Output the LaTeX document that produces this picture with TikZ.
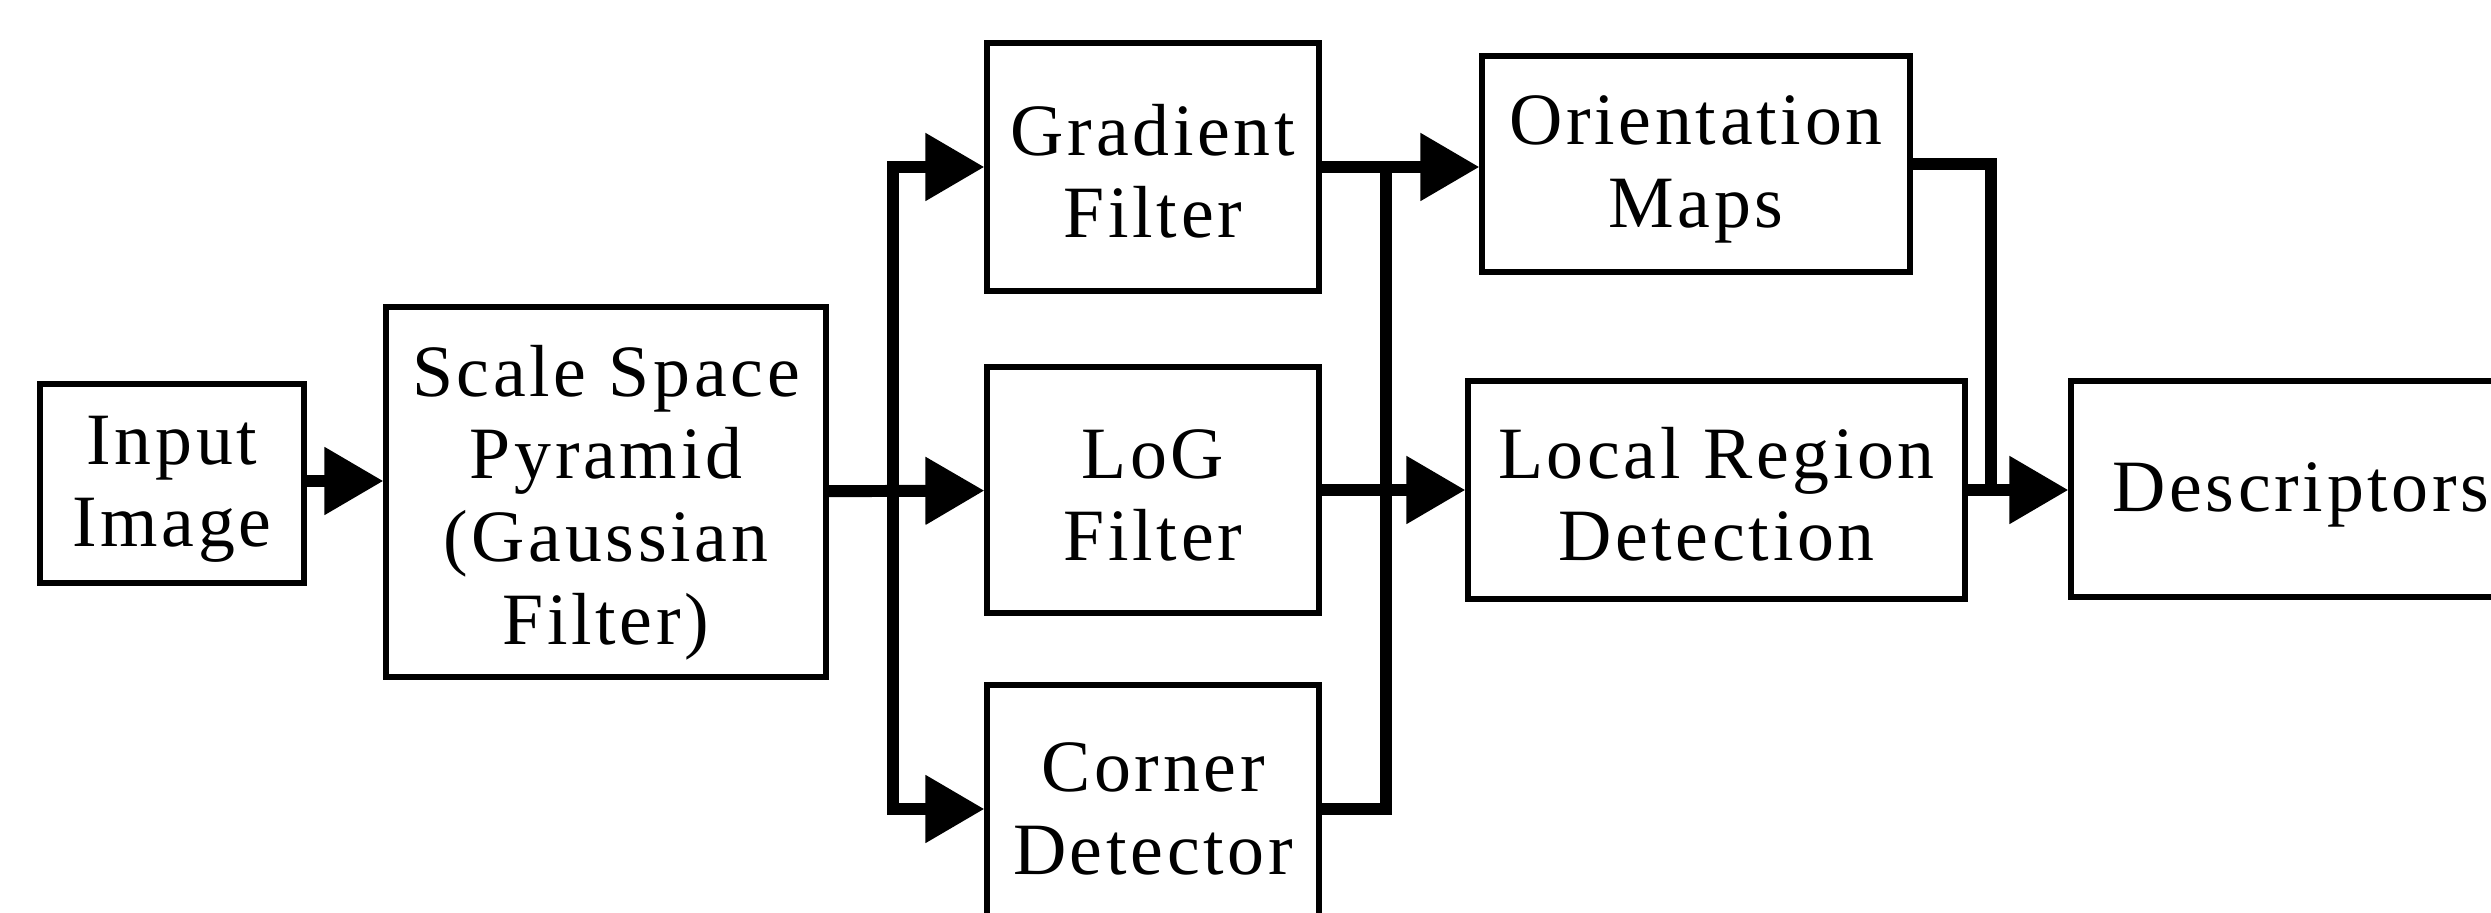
\documentclass[tikz,border=0pt]{standalone}
\usepackage{fontspec}
\setmainfont{Liberation Serif}[LetterSpace=5]
\usepackage{tikz}
\usetikzlibrary{arrows.meta}
\newcommand{\tstrut}[1][0.6cm]{\rule{0pt}{#1}}

\begin{document}
\begin{tikzpicture}[line width=3.4pt,
    box/.style={draw,rectangle,align=center,line width=1.5pt,inner sep=0pt,
      font=\fontsize{21}{23.5}\selectfont},
    flow/.style={-{Triangle[length=0.59cm,width=0.65cm]}}]
      \useasboundingbox (0,0) rectangle (24.91,9.12);

      \node [box,minimum width=2.64cm,minimum height=1.99cm] (in) at (1.72, 4.285) {\tstrut Input\\Image};
      \node [box,minimum width=4.40cm,minimum height=3.70cm] (ssp) at (6.06, 4.20) {\tstrut[0.72cm]Scale Space\\Pyramid\\(Gaussian\\Filter)};
      \node [box,minimum width=3.32cm,minimum height=2.48cm] (gf) at (11.53, 7.45) {\tstrut Gradient\\Filter};
      \node [box,minimum width=3.32cm,minimum height=2.46cm] (lf) at (11.53, 4.22) {\tstrut LoG\\Filter};
      \node [box,minimum width=3.32cm,minimum height=2.48cm] (cd) at (11.53, 1.03) {Corner\\Detector};
      \node [box,minimum width=4.28cm,minimum height=2.16cm] (om) at (16.96, 7.48) {\tstrut Orientation\\Maps};
      \node [box,minimum width=4.97cm,minimum height=2.18cm] (lr) at (17.165, 4.22) {\tstrut Local Region\\Detection};
      \node [box,minimum width=4.60cm,minimum height=2.16cm] (ds) at (23.01, 4.23) {\tstrut Descriptors};

      \coordinate (sp) at (8.93, 4.20);
      \coordinate (mg) at (13.86, 4.20);
      \coordinate (jn) at (19.91, 4.23);

      \draw [flow] (in.east |- 0,4.31) -- (ssp.west |- 0,4.31);
      \draw [flow] (ssp) -- (lf);
      \draw [flow] (sp) |- (gf.west);
      \draw [flow] (sp) |- (cd.west);

      \draw [flow] (gf.east) -- (gf.east -| om.west);
      \draw [flow] (lf) -- (lr);
      \draw (cd.east) -| (mg |- gf.east);

      \draw (om.east) -| (jn);
      \draw [flow] (lr.east) -- (lr.east -| ds.west);
    \end{tikzpicture}
\end{document}
